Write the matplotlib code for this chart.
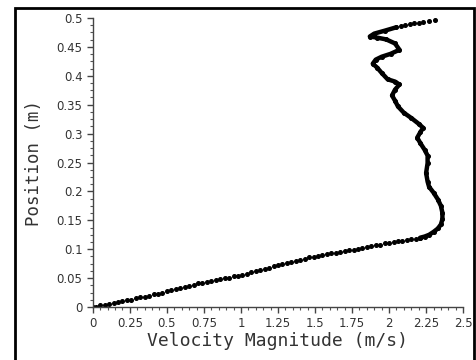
import matplotlib.pyplot as plt
from matplotlib.patches import Rectangle
from matplotlib.ticker import MultipleLocator

# lower, sparse part of the profile (separate dots)
low_v = [0.00, 0.02, 0.05, 0.08, 0.11, 0.14, 0.17, 0.20, 0.23, 0.26, 0.29, 0.32,
         0.35, 0.38, 0.41, 0.44, 0.47, 0.50, 0.53, 0.56, 0.59, 0.62, 0.65, 0.68,
         0.71, 0.74, 0.77, 0.80, 0.83, 0.86, 0.89, 0.92, 0.95, 0.98, 1.01, 1.04,
         1.07, 1.10, 1.13, 1.16, 1.19, 1.22, 1.25, 1.28, 1.31, 1.34, 1.37, 1.40,
         1.43, 1.46, 1.49, 1.52, 1.55, 1.58, 1.61, 1.64, 1.67, 1.70, 1.73, 1.76,
         1.79, 1.82, 1.85, 1.88, 1.91, 1.94, 1.97, 2.00, 2.03, 2.06, 2.09, 2.12,
         2.15, 2.18, 2.21]
low_y = [0.000, 0.001, 0.003, 0.004, 0.006, 0.007, 0.009, 0.010, 0.012, 0.013,
         0.015, 0.017, 0.018, 0.020, 0.022, 0.023, 0.025, 0.027, 0.029, 0.031,
         0.033, 0.035, 0.037, 0.039, 0.041, 0.042, 0.044, 0.045, 0.047, 0.048,
         0.050, 0.051, 0.053, 0.054, 0.056, 0.058, 0.060, 0.062, 0.064, 0.066,
         0.068, 0.071, 0.073, 0.075, 0.077, 0.078, 0.080, 0.082, 0.084, 0.086,
         0.087, 0.089, 0.090, 0.092, 0.093, 0.094, 0.095, 0.097, 0.098, 0.099,
         0.101, 0.102, 0.104, 0.105, 0.107, 0.108, 0.110, 0.111, 0.112, 0.114,
         0.115, 0.116, 0.117, 0.118, 0.120]

# upper part, points so dense they merge into a thick line
mid_v = [2.21, 2.24, 2.27, 2.30, 2.33, 2.35, 2.36, 2.36, 2.35, 2.33, 2.30, 2.27,
         2.26, 2.25, 2.26, 2.26, 2.24, 2.21, 2.19, 2.21, 2.23, 2.20, 2.15, 2.10,
         2.06, 2.04, 2.02, 2.04, 2.07, 2.04, 1.99, 1.95, 1.92, 1.89, 1.91, 1.95,
         2.01, 2.07, 2.04, 1.98, 1.92, 1.87, 1.90, 1.97, 2.05]
mid_y = [0.120, 0.122, 0.125, 0.130, 0.136, 0.143, 0.152, 0.163, 0.175, 0.186,
         0.198, 0.208, 0.217, 0.232, 0.249, 0.262, 0.272, 0.284, 0.293, 0.302,
         0.310, 0.317, 0.327, 0.336, 0.347, 0.357, 0.366, 0.376, 0.385, 0.390,
         0.394, 0.405, 0.414, 0.421, 0.428, 0.433, 0.438, 0.445, 0.456, 0.463,
         0.466, 0.468, 0.473, 0.478, 0.484]

# top end, sparse again
top_v = [2.08, 2.11, 2.14, 2.17, 2.20, 2.23, 2.27, 2.31]
top_y = [0.486, 0.488, 0.490, 0.491, 0.492, 0.493, 0.495, 0.497]

fig = plt.figure(figsize=(4.76, 3.6), dpi=100)
ax = fig.add_axes([0.195, 0.147, 0.778, 0.803])

ax.plot(mid_v, mid_y, color='black', lw=3.2, solid_capstyle='round',
        solid_joinstyle='round')
ax.plot(low_v + mid_v + top_v, low_y + mid_y + top_y, ls='none', marker='o',
        ms=2.6, color='black')

ax.set_xlim(0, 2.5)
ax.set_ylim(0, 0.5)
ax.set_xticks([0, 0.25, 0.5, 0.75, 1, 1.25, 1.5, 1.75, 2, 2.25, 2.5])
ax.set_xticklabels(['0', '0.25', '0.5', '0.75', '1', '1.25', '1.5', '1.75', '2', '2.25', '2.5'])
ax.set_yticks([0, 0.05, 0.1, 0.15, 0.2, 0.25, 0.3, 0.35, 0.4, 0.45, 0.5])
ax.set_yticklabels(['0', '0.05', '0.1', '0.15', '0.2', '0.25', '0.3', '0.35', '0.4', '0.45', '0.5'])
ax.xaxis.set_minor_locator(MultipleLocator(0.05))
ax.yaxis.set_minor_locator(MultipleLocator(0.0125))
ax.tick_params(which='major', direction='out', length=4, width=1, color='#444',
               labelsize=8.5, labelcolor='#333')
ax.tick_params(which='minor', direction='out', length=2, width=0.8, color='#555')

for s in ['top', 'right']:
    ax.spines[s].set_visible(False)
for s in ['left', 'bottom']:
    ax.spines[s].set_color('#444')
    ax.spines[s].set_linewidth(1)

ax.set_xlabel('Velocity Magnitude (m/s)', family='DejaVu Sans Mono', fontsize=13,
              color='#333', labelpad=1)
ax.set_ylabel('Position (m)', family='DejaVu Sans Mono', fontsize=12.5,
              color='#333', labelpad=10)

# outer frame of the picture
fig.patches.append(Rectangle((0.0315, -0.02), 0.9645, 0.998, transform=fig.transFigure,
                             fill=False, edgecolor='black', lw=2))

fig.savefig('out.png', dpi=100)
